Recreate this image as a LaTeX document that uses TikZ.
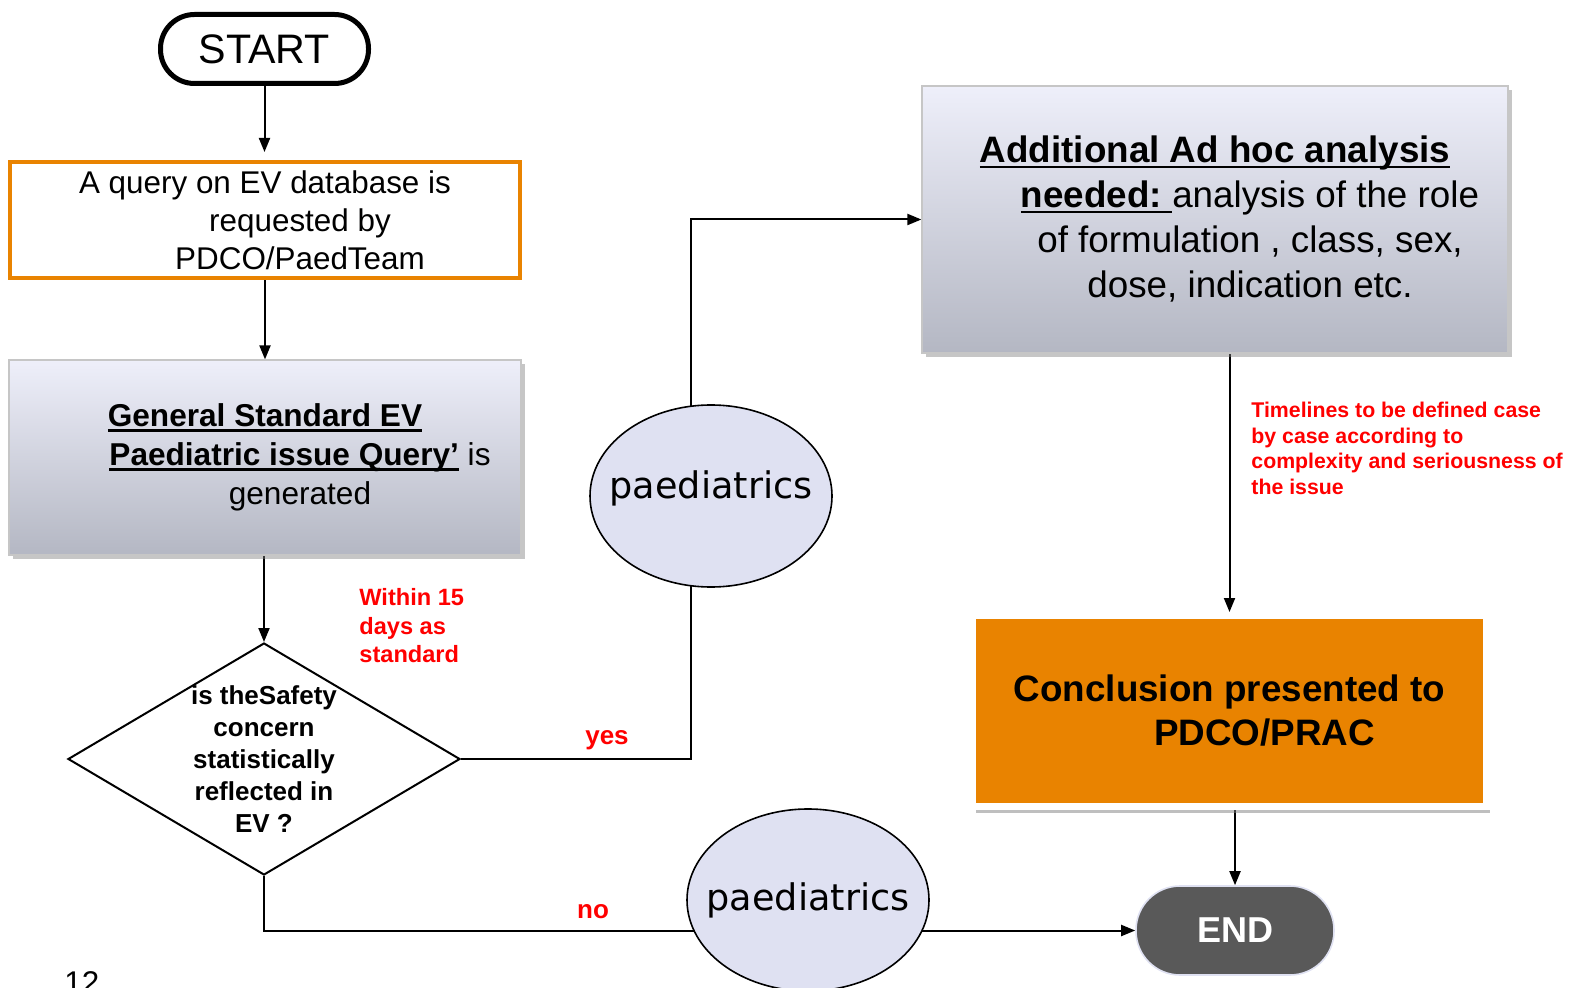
\documentclass[tikz,border=0pt]{standalone}
\usepackage{fontspec}
\setmainfont{Liberation Sans}
\newfontfamily\paedfont{DejaVu Sans}
\usetikzlibrary{arrows.meta, shapes.geometric, shadows, backgrounds, calc}
\definecolor{boxorange}{RGB}{233,131,0}
\definecolor{paedfill}{RGB}{223,225,242}
\definecolor{shadetop}{RGB}{238,239,250}
\definecolor{shadebot}{RGB}{180,183,195}
\definecolor{enddark}{RGB}{89,89,89}
\newcommand{\undl}[1]{\setbox0=\hbox{#1}\rlap{\rule[-2.6pt]{\wd0}{1.3pt}}\box0\relax}
\newcommand{\shiftln}{\hspace*{35pt}}

\begin{document}
\begin{tikzpicture}[x=0.5pt, y=-0.5pt, >={Triangle[length=7pt,width=5.5pt]},
  flow/.style={->, line width=1pt},
  greybox/.style={rectangle, draw=gray!45, line width=0.6pt, top color=shadetop,
    bottom color=shadebot, align=center,
    drop shadow={shadow xshift=2pt, shadow yshift=-2pt, opacity=0.45}},
  paed/.style={ellipse, draw, line width=0.8pt, fill=paedfill, minimum width=121pt,
    minimum height=91pt, inner sep=0pt},
  paedtext/.style={font=\paedfont\fontsize{18.3}{22}\selectfont},
  note/.style={red, align=left, anchor=north west, inner sep=0pt},
  answer/.style={red, inner sep=0pt, font=\bfseries\fontsize{13}{15}\selectfont}]
  \useasboundingbox (0,0) rectangle (1572,988);

  % Start and query
  \node[draw, line width=2.5pt, rounded corners=17pt, minimum width=104pt, minimum height=34.5pt,
    font=\fontsize{20.6}{24}\selectfont] (start) at (264.5,49) {START};
  \node[draw=boxorange, line width=2pt, minimum width=255pt, minimum height=58pt, align=center,
    font=\fontsize{15.7}{19}\selectfont] (query) at (265,220)
    {A query on EV database is\\ \shiftln requested by\\ \shiftln PDCO/PaedTeam};
  \node[greybox, minimum width=256pt, minimum height=97.5pt, font=\fontsize{15.8}{19.5}\selectfont]
    (general) at (265,457.5)
    {\undl{\bfseries General Standard EV}\\ \shiftln\undl{\bfseries Paediatric issue Query’} is\\ \shiftln generated};

  % Decision
  \node[diamond, draw, line width=1pt, minimum width=196pt, minimum height=116pt, inner sep=0pt,
    label={[align=center, font=\bfseries\fontsize{13}{16}\selectfont]center:is theSafety\\concern\\statistically\\reflected in\\EV ?}]
    (dia) at (264,759) {};
  \node[note, font=\bfseries\fontsize{11.8}{14.25}\selectfont] (within) at (359,588)
    {Within 15\\days as\\standard};
  \node[answer] (yes) at (607,740) {yes};
  \node[answer] (no) at (593,912) {no};

  % Paediatrics bubbles
  \node[paed, label={[paedtext, yshift=4pt]center:paediatrics}] (paedA) at (711,496) {};
  \node[paed, label={[paedtext]center:paediatrics}] (paedB) at (808,900) {};

  % Right column
  \node[greybox, minimum width=293pt, minimum height=133.5pt, font=\fontsize{18.4}{22.5}\selectfont]
    (adhoc) at (1215,219.5)
    {\undl{\bfseries Additional Ad hoc analysis}\\ \shiftln\undl{\bfseries needed:\ }analysis of the role\\
     \shiftln of formulation , class, sex,\\ \shiftln dose, indication etc.};
  \node[note, font=\bfseries\fontsize{10.65}{12.75}\selectfont] (timeline) at (1251,402)
    {Timelines to be defined case\\by case according to\\complexity and seriousness of\\the issue};
  \node[draw=white, line width=3.5pt, fill=boxorange, minimum width=257pt, minimum height=95.5pt,
    align=center, drop shadow={shadow xshift=1.5pt, shadow yshift=-3pt, opacity=0.5},
    font=\bfseries\fontsize{18.4}{22}\selectfont] (concl) at (1229.5,711)
    {Conclusion presented to\\ \shiftln PDCO/PRAC};
  \node[draw=paedfill, fill=enddark, text=white, line width=0.8pt, rounded corners=22pt,
    minimum width=99pt, minimum height=44.5pt, font=\bfseries\fontsize{18}{22}\selectfont]
    (stop) at (1235,930.5) {END};

  \node[anchor=north west, inner sep=0pt, font=\fontsize{15.7}{19}\selectfont] (pagenum) at (64,971) {12};

  % Connectors
  \begin{pgfonlayer}{background}
    \draw[flow, shorten >=4pt] (start.south) -- (start.south |- query.north);
    \draw[flow] (query.south) -- (general.north);
    \draw[flow] (general.south -| dia.north) -- (dia.north);
    \draw[flow] (dia.east) -| ($(paedA.center)+(-20,0)$) |- (adhoc.west);
    \draw[flow] (dia.south) |- (stop.west);
    \draw[flow] (adhoc.south -| concl.north) -- (concl.north);
    \draw[flow] (concl.south -| stop.north) -- (stop.north);
  \end{pgfonlayer}
\end{tikzpicture}
\end{document}
